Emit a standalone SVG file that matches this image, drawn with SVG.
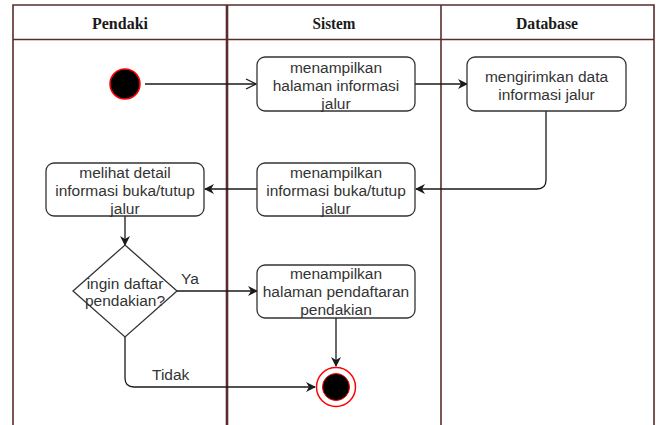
<svg xmlns="http://www.w3.org/2000/svg" width="656" height="425" viewBox="0 0 656 425">
  <style>
    .lane { fill: none; stroke: #5b2c2c; stroke-width: 1.6; }
    .head { font-family: "Liberation Serif", "Times New Roman", serif; font-weight: bold; font-size: 17px; fill: #1a1a1a; text-anchor: middle; }
    .box { fill: #ffffff; stroke: #333333; stroke-width: 1.3; }
    .lbl { font-family: "Liberation Sans", Arial, sans-serif; font-size: 15.5px; fill: #333333; text-anchor: middle; }
    .edge { fill: none; stroke: #1a1a1a; stroke-width: 1.3; }
    .elbl { font-family: "Liberation Sans", Arial, sans-serif; font-size: 15.5px; fill: #333333; }
  </style>
  <defs>
    <marker id="filled" viewBox="0 0 10 10" refX="9" refY="5" markerWidth="10" markerHeight="10" markerUnits="userSpaceOnUse" orient="auto">
      <path d="M0,0 L10,5 L0,10 L3,5 Z" fill="#1a1a1a"/>
    </marker>
    <marker id="open" viewBox="0 0 12 12" refX="11" refY="6" markerWidth="12" markerHeight="12" markerUnits="userSpaceOnUse" orient="auto">
      <path d="M1,1 L11,6 L1,11" fill="none" stroke="#1a1a1a" stroke-width="1.3"/>
    </marker>
  </defs>

  <rect width="656" height="425" fill="#ffffff"/>

  <!-- swimlane frame -->
  <g id="lanes">
    <path class="lane" d="M13,425 V5 H654 V425"/>
    <line class="lane" x1="13" y1="39.5" x2="654" y2="39.5"/>
    <line class="lane" x1="227" y1="5" x2="227" y2="425" style="stroke-width:2.6"/>
    <line class="lane" x1="441" y1="5" x2="441" y2="425"/>
    <text class="head" x="120" y="28.5" textLength="56" lengthAdjust="spacingAndGlyphs">Pendaki</text>
    <text class="head" x="334" y="28.5" textLength="43" lengthAdjust="spacingAndGlyphs">Sistem</text>
    <text class="head" x="547" y="28.5" textLength="62" lengthAdjust="spacingAndGlyphs">Database</text>
  </g>

  <!-- connectors -->
  <g id="connectors">
    <line class="edge" x1="145" y1="84" x2="256" y2="84" marker-end="url(#open)"/>
    <line class="edge" x1="415" y1="84" x2="467" y2="84" marker-end="url(#filled)"/>
    <path class="edge" d="M546,111 V180 Q546,189 537,189 H416" marker-end="url(#filled)"/>
    <line class="edge" x1="257" y1="189" x2="205" y2="189" marker-end="url(#filled)"/>
    <line class="edge" x1="125" y1="216" x2="125" y2="245" marker-end="url(#filled)"/>
    <line class="edge" x1="177" y1="291" x2="257" y2="291" marker-end="url(#filled)"/>
    <text class="elbl" x="181" y="284">Ya</text>
    <line class="edge" x1="336" y1="318" x2="336" y2="366" marker-end="url(#filled)"/>
    <path class="edge" d="M125,337 V378 Q125,387 134,387 H315" marker-end="url(#filled)"/>
    <text class="elbl" x="152" y="380">Tidak</text>
  </g>

  <!-- nodes -->
  <g id="start">
    <circle cx="125" cy="84" r="15" fill="#000000" stroke="#ff0000" stroke-width="1.5"/>
  </g>

  <g id="show-route-page">
    <rect class="box" x="257" y="57" width="158" height="54" rx="8"/>
    <text class="lbl" x="336" y="72.5">menampilkan</text>
    <text class="lbl" x="336" y="90.5">halaman informasi</text>
    <text class="lbl" x="336" y="108.5">jalur</text>
  </g>

  <g id="send-route-data">
    <rect class="box" x="467" y="57" width="159" height="54" rx="8"/>
    <text class="lbl" x="546.5" y="82">mengirimkan data</text>
    <text class="lbl" x="546.5" y="100">informasi jalur</text>
  </g>

  <g id="show-open-close">
    <rect class="box" x="257" y="163" width="158" height="53" rx="8"/>
    <text class="lbl" x="336" y="177.5">menampilkan</text>
    <text class="lbl" x="336" y="195.5">informasi buka/tutup</text>
    <text class="lbl" x="336" y="213.5">jalur</text>
  </g>

  <g id="view-detail">
    <rect class="box" x="46" y="163" width="158" height="53" rx="8"/>
    <text class="lbl" x="125" y="177.5">melihat detail</text>
    <text class="lbl" x="125" y="195.5">informasi buka/tutup</text>
    <text class="lbl" x="125" y="213.5">jalur</text>
  </g>

  <g id="decision">
    <polygon class="box" points="125,245 177,291 125,337 73,291"/>
    <text class="lbl" x="125" y="288.5">ingin daftar</text>
    <text class="lbl" x="125" y="305.5">pendakian?</text>
  </g>

  <g id="show-registration">
    <rect class="box" x="257" y="265" width="158" height="53" rx="8"/>
    <text class="lbl" x="336" y="278.5">menampilkan</text>
    <text class="lbl" x="336" y="296.5">halaman pendaftaran</text>
    <text class="lbl" x="336" y="314.5">pendakian</text>
  </g>

  <g id="end">
    <circle cx="336" cy="387" r="19.5" fill="#ffffff" stroke="#ff0000" stroke-width="1.5"/>
    <circle cx="336" cy="387" r="13.5" fill="#000000" stroke="#ff0000" stroke-width="1"/>
  </g>
</svg>
